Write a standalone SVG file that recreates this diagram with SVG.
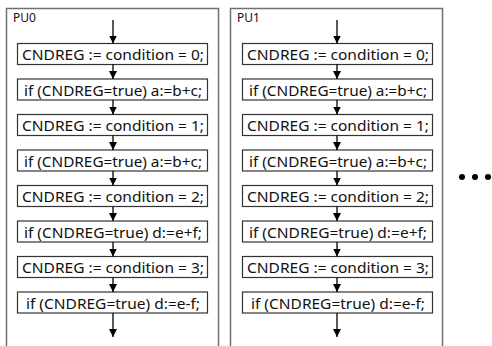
<svg xmlns="http://www.w3.org/2000/svg" width="492" height="346" viewBox="0 0 492 346">
<style>
.pu{fill:#fff;stroke:#707070;stroke-width:1.5}
.box{fill:#fff;stroke:#333;stroke-width:1.2}
.t{font-family:"Noto Sans","Open Sans",sans-serif;font-size:14.5px;fill:#111}
.lbl{font-family:"Noto Sans","Open Sans",sans-serif;font-size:12px;fill:#111}
.c{stroke:#000;stroke-width:1.3;fill:none}
</style>
<defs>
<marker id="ah" markerWidth="9" markerHeight="8" refX="8" refY="4" orient="auto" markerUnits="userSpaceOnUse">
<path d="M0,0 L8,4 L0,8 Z" fill="#000"/>
</marker>
</defs>
<rect width="492" height="346" fill="#fff"/>
<g id="pu0">
<rect class="pu" x="6.5" y="8.5" width="212" height="350"/>
<text class="lbl" x="13" y="22">PU0</text>
</g>
<g id="pu1">
<rect class="pu" x="230.5" y="8.5" width="212" height="350"/>
<text class="lbl" x="237" y="22">PU1</text>
</g>
<g id="p0n0"><rect class="box" x="17.5" y="43.5" width="190" height="21"/><text class="t" x="22" y="60" textLength="182" lengthAdjust="spacingAndGlyphs">CNDREG := condition = 0;</text></g>
<g id="p0n1"><rect class="box" x="17.5" y="79" width="190" height="21"/><text class="t" x="24" y="95.5" textLength="178" lengthAdjust="spacingAndGlyphs">if (CNDREG=true) a:=b+c;</text></g>
<g id="p0n2"><rect class="box" x="17.5" y="114.5" width="190" height="21"/><text class="t" x="22" y="131" textLength="182" lengthAdjust="spacingAndGlyphs">CNDREG := condition = 1;</text></g>
<g id="p0n3"><rect class="box" x="17.5" y="150" width="190" height="21"/><text class="t" x="24" y="166.5" textLength="178" lengthAdjust="spacingAndGlyphs">if (CNDREG=true) a:=b+c;</text></g>
<g id="p0n4"><rect class="box" x="17.5" y="185.5" width="190" height="21"/><text class="t" x="22" y="202" textLength="182" lengthAdjust="spacingAndGlyphs">CNDREG := condition = 2;</text></g>
<g id="p0n5"><rect class="box" x="17.5" y="221" width="190" height="21"/><text class="t" x="24" y="237.5" textLength="178" lengthAdjust="spacingAndGlyphs">if (CNDREG=true) d:=e+f;</text></g>
<g id="p0n6"><rect class="box" x="17.5" y="256.5" width="190" height="21"/><text class="t" x="22" y="273" textLength="182" lengthAdjust="spacingAndGlyphs">CNDREG := condition = 3;</text></g>
<g id="p0n7"><rect class="box" x="17.5" y="292" width="190" height="21"/><text class="t" x="26" y="308.5" textLength="174" lengthAdjust="spacingAndGlyphs">if (CNDREG=true) d:=e-f;</text></g>
<g id="p1n0"><rect class="box" x="242.5" y="43.5" width="190" height="21"/><text class="t" x="247" y="60" textLength="182" lengthAdjust="spacingAndGlyphs">CNDREG := condition = 0;</text></g>
<g id="p1n1"><rect class="box" x="242.5" y="79" width="190" height="21"/><text class="t" x="249" y="95.5" textLength="178" lengthAdjust="spacingAndGlyphs">if (CNDREG=true) a:=b+c;</text></g>
<g id="p1n2"><rect class="box" x="242.5" y="114.5" width="190" height="21"/><text class="t" x="247" y="131" textLength="182" lengthAdjust="spacingAndGlyphs">CNDREG := condition = 1;</text></g>
<g id="p1n3"><rect class="box" x="242.5" y="150" width="190" height="21"/><text class="t" x="249" y="166.5" textLength="178" lengthAdjust="spacingAndGlyphs">if (CNDREG=true) a:=b+c;</text></g>
<g id="p1n4"><rect class="box" x="242.5" y="185.5" width="190" height="21"/><text class="t" x="247" y="202" textLength="182" lengthAdjust="spacingAndGlyphs">CNDREG := condition = 2;</text></g>
<g id="p1n5"><rect class="box" x="242.5" y="221" width="190" height="21"/><text class="t" x="249" y="237.5" textLength="178" lengthAdjust="spacingAndGlyphs">if (CNDREG=true) d:=e+f;</text></g>
<g id="p1n6"><rect class="box" x="242.5" y="256.5" width="190" height="21"/><text class="t" x="247" y="273" textLength="182" lengthAdjust="spacingAndGlyphs">CNDREG := condition = 3;</text></g>
<g id="p1n7"><rect class="box" x="242.5" y="292" width="190" height="21"/><text class="t" x="251" y="308.5" textLength="174" lengthAdjust="spacingAndGlyphs">if (CNDREG=true) d:=e-f;</text></g>
<g id="connectors">
<line class="c" x1="113" y1="20" x2="113" y2="43.5" marker-end="url(#ah)"/>
<line class="c" x1="113" y1="64.5" x2="113" y2="79" marker-end="url(#ah)"/>
<line class="c" x1="113" y1="100" x2="113" y2="114.5" marker-end="url(#ah)"/>
<line class="c" x1="113" y1="135.5" x2="113" y2="150" marker-end="url(#ah)"/>
<line class="c" x1="113" y1="171" x2="113" y2="185.5" marker-end="url(#ah)"/>
<line class="c" x1="113" y1="206.5" x2="113" y2="221" marker-end="url(#ah)"/>
<line class="c" x1="113" y1="242" x2="113" y2="256.5" marker-end="url(#ah)"/>
<line class="c" x1="113" y1="277.5" x2="113" y2="292" marker-end="url(#ah)"/>
<line class="c" x1="113" y1="313" x2="113" y2="337" marker-end="url(#ah)"/>
<line class="c" x1="337" y1="20" x2="337" y2="43.5" marker-end="url(#ah)"/>
<line class="c" x1="337" y1="64.5" x2="337" y2="79" marker-end="url(#ah)"/>
<line class="c" x1="337" y1="100" x2="337" y2="114.5" marker-end="url(#ah)"/>
<line class="c" x1="337" y1="135.5" x2="337" y2="150" marker-end="url(#ah)"/>
<line class="c" x1="337" y1="171" x2="337" y2="185.5" marker-end="url(#ah)"/>
<line class="c" x1="337" y1="206.5" x2="337" y2="221" marker-end="url(#ah)"/>
<line class="c" x1="337" y1="242" x2="337" y2="256.5" marker-end="url(#ah)"/>
<line class="c" x1="337" y1="277.5" x2="337" y2="292" marker-end="url(#ah)"/>
<line class="c" x1="337" y1="313" x2="337" y2="337" marker-end="url(#ah)"/>
</g>
<g id="ellipsis" fill="#000">
<circle cx="462" cy="177" r="3"/>
<circle cx="475" cy="177" r="3"/>
<circle cx="488" cy="177" r="3"/>
</g>
</svg>
